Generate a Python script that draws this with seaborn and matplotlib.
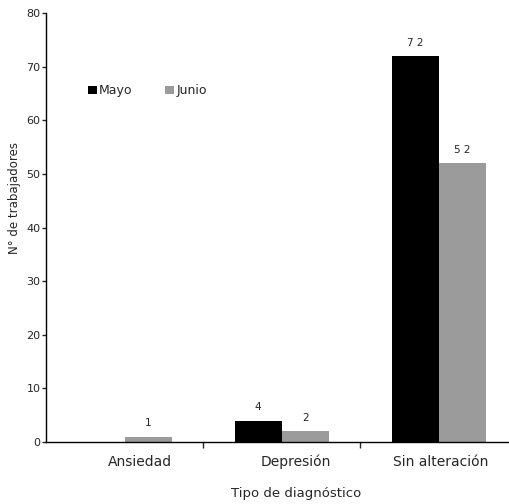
import matplotlib
matplotlib.use("Agg")
import matplotlib.pyplot as plt
import matplotlib.transforms as mtransforms
import seaborn as sns
import pandas as pd

categorias = ["Ansiedad", "Depresión", "Sin alteración"]
mayo = [0, 4, 72]
junio = [1, 2, 52]
meses = ["Mayo", "Junio"]
colores = {"Mayo": "#000000", "Junio": "#9b9b9b"}

df = pd.DataFrame({
    "categoria": categorias * 2,
    "mes": [meses[0]] * 3 + [meses[1]] * 3,
    "valor": mayo + junio,
})

sns.set_style("white")
plt.rcParams["font.family"] = ["DejaVu Sans"]

fig = plt.figure(figsize=(5.1, 5.04), dpi=100)
ax = fig.add_axes([0.090, 0.123, 0.925, 0.851])

sns.barplot(data=df, x="categoria", y="valor", hue="mes", palette=colores,
            width=0.6, saturation=1, linewidth=0, ax=ax, errorbar=None, legend=True)

# etiquetas de valor (sin etiqueta para barras en cero)
for cont in ax.containers:
    labels = [("" if v == 0 else " ".join(str(int(v)))) for v in cont.datavalues]
    ax.bar_label(cont, labels=labels, padding=6, fontsize=7.5)

ax.set_ylim(0, 80)
ax.set_xlim(-0.5, 2.5)
ax.set_yticks(range(0, 81, 10))
ax.tick_params(axis="y", labelsize=8, length=3, width=1, pad=1, direction="out", left=True)
ax.set_xticks(range(3))
ax.set_xticklabels(categorias, fontsize=10)
ax.tick_params(axis="x", length=0, pad=9)
ax.set_xticks([0.5, 1.5], minor=True)
ax.tick_params(axis="x", which="minor", length=4, width=1, direction="out", bottom=True)

# pequeño desplazamiento de las etiquetas de categoría como en el original
for lab, dx in zip(ax.get_xticklabels(), [15, 14, 2]):
    lab.set_transform(lab.get_transform() + mtransforms.ScaledTranslation(dx / 100, 0, fig.dpi_scale_trans))

for s in ["top", "right"]:
    ax.spines[s].set_visible(False)
for s in ["left", "bottom"]:
    ax.spines[s].set_color("black")
    ax.spines[s].set_linewidth(1)

ax.set_ylabel("N° de trabajadores", fontsize=8.5)
ax.yaxis.set_label_coords(-0.052, 0.57)
ax.set_xlabel("Tipo de diagnóstico", fontsize=9.5)
ax.xaxis.set_label_coords(0.53, -0.105)

leg = ax.legend(loc="upper left", bbox_to_anchor=(0.065, 0.86), ncol=2, frameon=False,
                handlelength=0.7, handleheight=0.7, handletextpad=0.2, columnspacing=2.6,
                fontsize=9)

fig.savefig("out.png", dpi=100)
